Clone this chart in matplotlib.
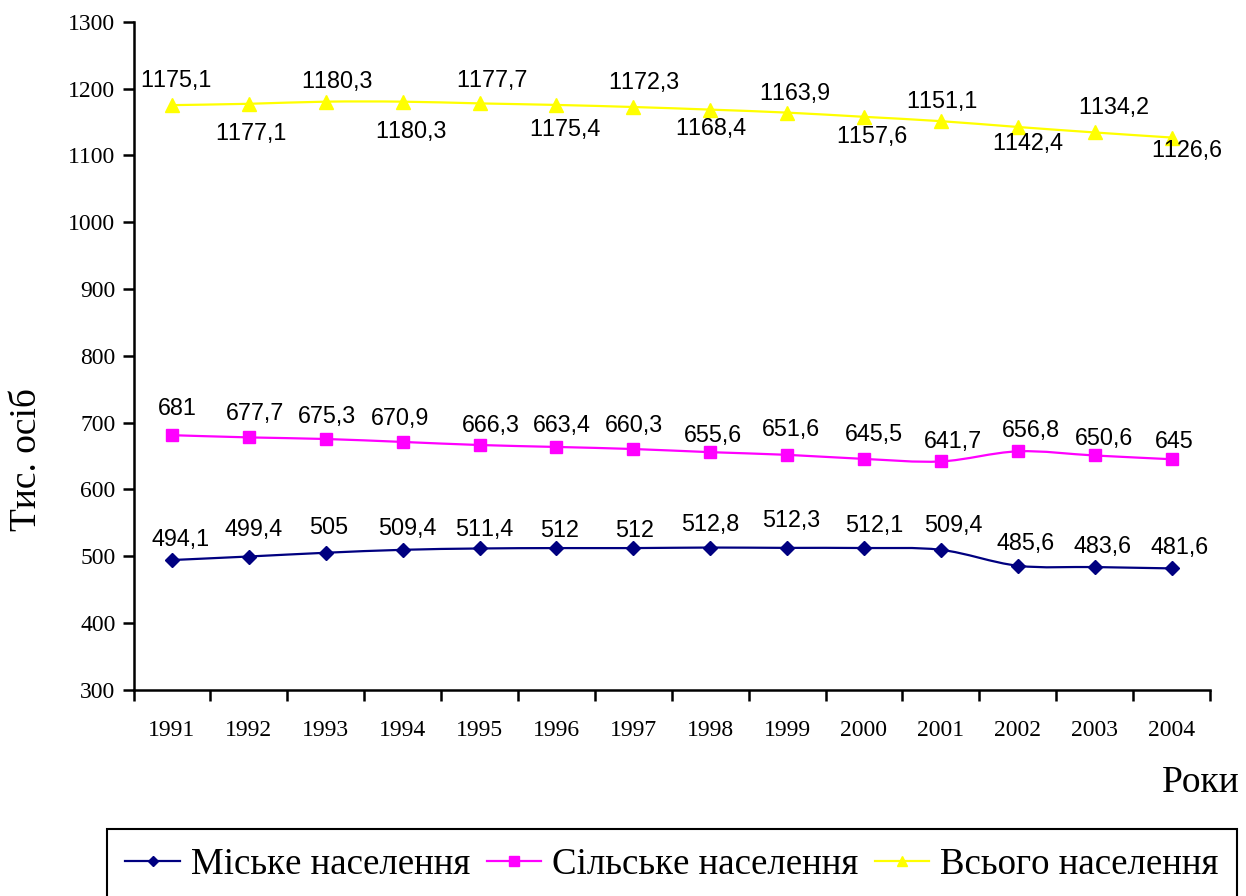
import matplotlib
matplotlib.use("Agg")
import matplotlib.pyplot as plt
from matplotlib.path import Path
from matplotlib.patches import PathPatch
from matplotlib.lines import Line2D
import numpy as np

plt.rcParams["text.kerning_factor"] = 6

# ---------------- data ----------------
years = ["1991", "1992", "1993", "1994", "1995", "1996", "1997",
         "1998", "1999", "2000", "2001", "2002", "2003", "2004"]
urban = [494.1, 499.4, 505, 509.4, 511.4, 512, 512, 512.8, 512.3, 512.1,
         509.4, 485.6, 483.6, 481.6]
rural = [681, 677.7, 675.3, 670.9, 666.3, 663.4, 660.3, 655.6, 651.6, 645.5,
         641.7, 656.8, 650.6, 645]
total = [1175.1, 1177.1, 1180.3, 1180.3, 1177.7, 1175.4, 1172.3, 1168.4,
         1163.9, 1157.6, 1151.1, 1142.4, 1134.2, 1126.6]
series_names = ["Міське населення", "Сільське населення", "Всього населення"]
y_ticks = [300, 400, 500, 600, 700, 800, 900, 1000, 1100, 1200, 1300]
y_label = "Тис. осіб"
x_label = "Роки"

# ---------------- styling (label offsets in pixels: dx, dy-up) ----------------
urban_off = [(9, 21), (5, 27), (3, 25), (5, 21), (5, 19), (3, 18), (1, 18),
             (0, 23), (4, 27), (10, 23), (12, 24), (8, 22), (8, 21), (8, 21)]
rural_off = [(5, 27), (6, 24), (1, 22), (-3, 23), (11, 20), (5, 21), (1, 24),
             (3, 17), (4, 25), (10, 24), (12, 20), (13, 21), (9, 17), (3, 18)]
total_off = [(4, 25), (2, -30), (11, 20), (8, -30), (12, 23), (8, -25), (11, 25),
             (1, -19), (8, 19), (8, -20), (1, 20), (10, -17), (19, 25), (15, -13)]

W, H = 1246, 896
fig = plt.figure(figsize=(W / 100, H / 100), dpi=100)
ax_l, ax_r, ax_t, ax_b = 133.5, 1210, 21.7, 689.7
ax = fig.add_axes([ax_l / W, 1 - ax_b / H, (ax_r - ax_l) / W, (ax_b - ax_t) / H])

xs = np.arange(len(years))


def smooth_path(x, y):
    n = len(x)
    verts = [(x[0], y[0])]
    codes = [Path.MOVETO]
    for i in range(n - 1):
        a = i - 1 if i > 0 else i
        d = i + 2 if i + 2 < n else i + 1
        c1 = (x[i] + (x[i + 1] - x[a]) / 6.0, y[i] + (y[i + 1] - y[a]) / 6.0)
        c2 = (x[i + 1] - (x[d] - x[i]) / 6.0, y[i + 1] - (y[d] - y[i]) / 6.0)
        verts += [c1, c2, (x[i + 1], y[i + 1])]
        codes += [Path.CURVE4] * 3
    return Path(verts, codes)


styles = [
    (urban, "#000080", "D", 7.2, urban_off),
    (rural, "#FF00FF", "s", 9.3, rural_off),
    (total, "#FFFF00", "^", 9.5, total_off),
]

handles = []
for (vals, col, mk, ms, offs), name in zip(styles, series_names):
    ax.add_patch(PathPatch(smooth_path(xs, vals), fill=False, edgecolor=col,
                           lw=1.6, zorder=2))
    ax.plot(xs, vals, linestyle="none", marker=mk, markersize=ms, color=col,
            markeredgecolor=col, zorder=3)
    for xi, v, (dx, dy) in zip(xs, vals, offs):
        txt = f"{v:g}".replace(".", ",")
        ax.annotate(txt, (xi, v), xytext=(dx, dy), textcoords="offset pixels",
                    ha="center", va="center", fontsize=16.8,
                    family="Liberation Sans", color="black", zorder=4)
    handles.append(Line2D([], [], color=col, lw=1.6, marker=mk,
                          markersize=ms * 0.75, markeredgecolor=col))

ax.set_xlim(-0.5, len(years) - 0.5)
ax.set_ylim(300, 1300)
ax.set_yticks(y_ticks)
ax.set_yticklabels([str(t) for t in y_ticks], family="Liberation Serif", fontsize=17)
ax.set_xticks(xs)
ax.set_xticklabels(years, family="Liberation Serif", fontsize=17)
ax.set_xticks(np.arange(len(years) + 1) - 0.5, minor=True)
ax.tick_params(axis="x", which="major", length=0, pad=22)
ax.tick_params(axis="x", which="minor", length=8, width=1.8, direction="out")
ax.tick_params(axis="y", which="major", length=8, width=1.8, direction="out", pad=5)
for s in ["top", "right"]:
    ax.spines[s].set_visible(False)
for s in ["left", "bottom"]:
    ax.spines[s].set_linewidth(1.8)

fig.text(27 / W, 1 - 460 / H, y_label, rotation=90, ha="center", va="center",
         family="Liberation Serif", fontsize=27)
fig.text(1240 / W, 1 - 792 / H, x_label, ha="right", va="baseline",
         family="Liberation Serif", fontsize=27)

leg = fig.legend(handles, series_names, loc="upper left",
                 bbox_to_anchor=(107 / W, 1 - 829 / H),
                 ncol=3, prop={"family": "Liberation Serif", "size": 26.6},
                 frameon=True, fancybox=False, edgecolor="black", framealpha=1,
                 handlelength=1.47, handletextpad=0.3, borderpad=0.5,
                 borderaxespad=0, columnspacing=0.45)
leg.get_frame().set_linewidth(1.5)

fig.savefig("out.png", dpi=100)
